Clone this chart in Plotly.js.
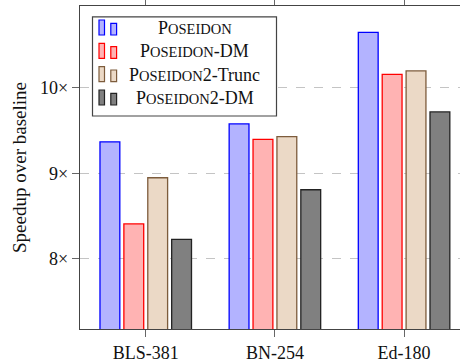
<!DOCTYPE html>
<html>
<head>
<meta charset="utf-8">
<script src="https://cdn.plot.ly/plotly-3.0.1.min.js"></script>
<style>html,body{margin:0;padding:0;overflow:hidden;background:#fff}</style>
</head>
<body>
<div id="chart" style="width:460px;height:364px"></div>
<script>
const categories = ['BLS-381', 'BN-254', 'Ed-180'];
const seriesNames = ['Poseidon', 'Poseidon-DM', 'Poseidon2-Trunc', 'Poseidon2-DM'];
const poseidon = [9.37, 9.58, 10.65];
const poseidonDM = [8.41, 9.40, 10.16];
const poseidon2Trunc = [8.95, 9.43, 10.20];
const poseidon2DM = [8.23, 8.81, 9.72];
const yTickVals = [8, 9, 10];
const yTickText = ['8×', '9×', '10×'];
const yTitle = 'Speedup over baseline';

const values = [poseidon, poseidonDM, poseidon2Trunc, poseidon2DM];
const fills = ['#b3b3ff', '#ffb3b3', '#ebd9c6', '#808080'];
const lines = ['#0000ff', '#ff0000', '#7d5c3c', '#222222'];
const legendLabels = [
  'P<span style="font-size:14.5px">OSEIDON</span>',
  'P<span style="font-size:14.5px">OSEIDON</span>-DM',
  'P<span style="font-size:14.5px">OSEIDON</span>2-Trunc',
  'P<span style="font-size:14.5px">OSEIDON</span>2-DM'
];

const FONT = 'Liberation Serif, Times New Roman, serif';
const W = 460, H = 364, L = 80, R = 0, T = 6, B = 35;
const pw = W - L - R, ph = H - T - B;
const px = x => (x - L) / pw;
const py = y => 1 - (y - T) / ph;

const traces = values.map((v, i) => ({
  type: 'bar',
  x: categories,
  y: v,
  name: seriesNames[i],
  marker: {color: fills[i], line: {color: lines[i], width: 1.3}},
  hoverinfo: 'skip'
}));

const shapes = [];
const annotations = [];
// legend box
shapes.push({type: 'rect', xref: 'paper', yref: 'paper',
  x0: px(92.5), x1: px(276.5), y0: py(116), y1: py(16.8),
  fillcolor: '#ffffff', line: {color: '#444', width: 1.2}, layer: 'above'});
const rowY = [27.5, 50.8, 74.2, 97.5];
rowY.forEach((cy, i) => {
  shapes.push({type: 'rect', xref: 'paper', yref: 'paper',
    x0: px(99), x1: px(104.5), y0: py(cy + 7.5), y1: py(cy - 7.5),
    fillcolor: fills[i], line: {color: lines[i], width: 1.2}, layer: 'above'});
  shapes.push({type: 'rect', xref: 'paper', yref: 'paper',
    x0: px(110.8), x1: px(116.6), y0: py(cy + 7.5), y1: py(cy - 4.2),
    fillcolor: fills[i], line: {color: lines[i], width: 1.2}, layer: 'above'});
  annotations.push({xref: 'paper', yref: 'paper', x: px(194.5), y: py(cy + 0.5),
    xanchor: 'center', yanchor: 'middle', showarrow: false,
    text: legendLabels[i], font: {family: FONT, size: 18, color: '#111'}});
});

const layout = {
  width: W, height: H,
  margin: {l: L, r: R, t: T, b: B, pad: 0},
  paper_bgcolor: '#fff', plot_bgcolor: '#fff',
  barmode: 'group', bargap: 0.26, bargroupgap: 0.17,
  showlegend: false,
  font: {family: FONT, size: 18, color: '#111'},
  xaxis: {
    type: 'category', range: [-0.509, 2.433],
    showline: true, linecolor: '#444', linewidth: 1.2, mirror: 'ticks',
    ticks: 'outside', ticklen: 7, tickcolor: '#666', tickwidth: 1,
    showgrid: false, zeroline: false,
    tickfont: {family: FONT, size: 18, color: '#111'}
  },
  yaxis: {
    range: [7.181, 10.959],
    tickvals: yTickVals, ticktext: yTickText,
    showline: true, linecolor: '#444', linewidth: 1.2, mirror: false,
    ticks: 'outside', ticklen: 7, tickcolor: '#666', tickwidth: 1,
    showgrid: true, gridcolor: '#c4c4c4', griddash: 'dash', gridwidth: 1,
    zeroline: false,
    tickfont: {family: FONT, size: 18, color: '#111'},
    title: {text: yTitle, font: {family: FONT, size: 19, color: '#111'}, standoff: 8}
  },
  shapes: shapes,
  annotations: annotations
};

Plotly.newPlot('chart', traces, layout, {displayModeBar: false, staticPlot: true});
</script>
</body>
</html>
